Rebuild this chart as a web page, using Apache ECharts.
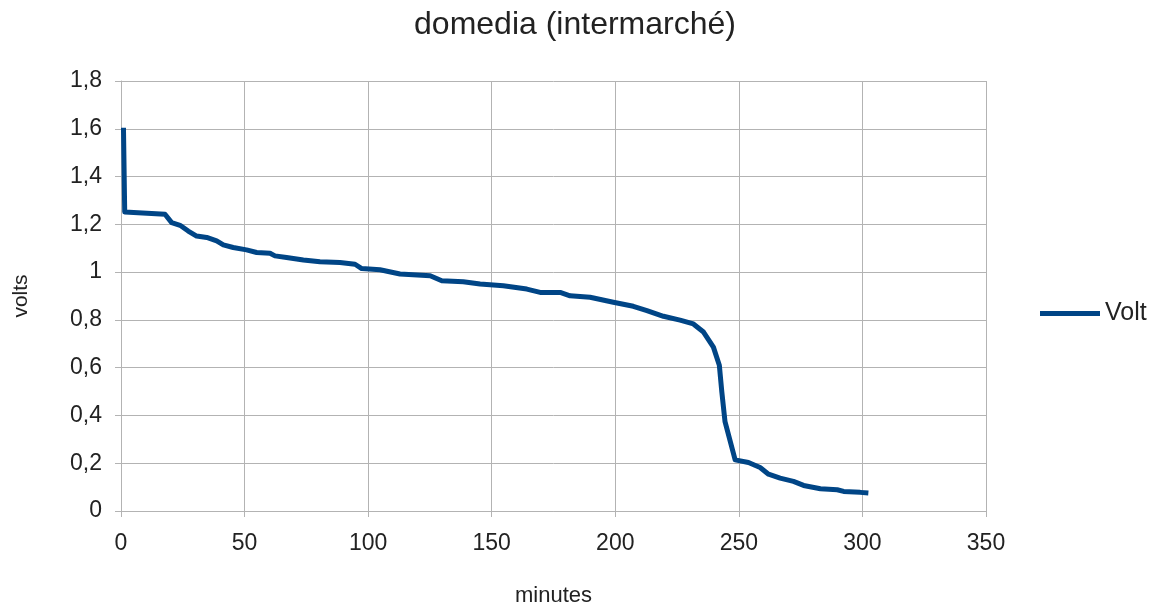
<!DOCTYPE html>
<html>
<head>
<meta charset="utf-8">
<script src="https://cdn.jsdelivr.net/npm/echarts@6/dist/echarts.min.js"></script>
<style>
html,body{margin:0;padding:0;background:#fff;}
#chart{width:1161px;height:612px;}
</style>
</head>
<body>
<div id="chart"></div>
<script>
// minutes / volts
var minutes = [1, 1.5, 17.8, 20.5, 23.9, 27.2, 30.6, 34.7, 38.7, 41.4, 45.4, 50.8, 54.9, 60.3, 62.3, 67, 73.8, 80.5, 88.6, 94.7, 97.4, 104.8, 112.9, 125.1, 129.8, 138.5, 145.3, 154.7, 164.2, 169.6, 177.7, 181.7, 189.8, 199.2, 207.3, 212.8, 219.5, 226.2, 231.6, 235.7, 239.7, 242.1, 243.1, 244.4, 248.5, 253.9, 258.6, 262, 266.7, 272.1, 276.2, 283, 289.8, 292.4, 299.1, 302.4];
var volts = [1.604, 1.252, 1.242, 1.207, 1.196, 1.172, 1.151, 1.145, 1.131, 1.114, 1.103, 1.093, 1.082, 1.079, 1.068, 1.061, 1.051, 1.043, 1.040, 1.033, 1.015, 1.010, 0.992, 0.985, 0.964, 0.960, 0.950, 0.943, 0.929, 0.915, 0.915, 0.901, 0.895, 0.874, 0.857, 0.839, 0.815, 0.799, 0.783, 0.749, 0.686, 0.610, 0.499, 0.374, 0.214, 0.203, 0.182, 0.154, 0.1375, 0.124, 0.107, 0.093, 0.089, 0.082, 0.078, 0.075];
var seriesName = 'Volt';

var pts = [];
for (var i = 0; i < minutes.length; i++) {
	pts.push([minutes[i], volts[i]]);
}

var chart = echarts.init(document.getElementById('chart'));
var gridColor = '#b3b3b3';
var txtColor = '#222';
var fontFam = '"Liberation Sans", Arial, sans-serif';

chart.setOption({
	animation: false,
	title: {
		text: 'domedia (intermarché)',
		left: 570,
		textAlign: 'center',
		top: 4,
		textStyle: {fontFamily: fontFam, fontSize: 32, fontWeight: 'normal', color: txtColor}
	},
	legend: {
		left: 1035,
		top: 296,
		icon: 'rect',
		itemWidth: 60,
		itemHeight: 5,
		itemGap: 6,
		textStyle: {fontFamily: fontFam, fontSize: 25, color: txtColor},
		data: [seriesName]
	},
	grid: {left: 121, right: 175, top: 81, bottom: 99},
	xAxis: {
		type: 'value',
		min: 0, max: 350, interval: 50,
		name: 'minutes',
		nameLocation: 'middle',
		nameGap: 74,
		nameTextStyle: {fontFamily: fontFam, fontSize: 22, color: txtColor},
		axisLine: {lineStyle: {color: gridColor}},
		axisTick: {show: true, length: 6, lineStyle: {color: gridColor}},
		axisLabel: {fontFamily: fontFam, fontSize: 23, color: txtColor, margin: 21},
		splitLine: {show: true, lineStyle: {color: gridColor, width: 1}}
	},
	yAxis: {
		type: 'value',
		min: 0, max: 1.8, interval: 0.2,
		name: 'volts',
		nameLocation: 'middle',
		nameGap: 89,
		nameTextStyle: {fontFamily: fontFam, fontSize: 21, color: txtColor},
		axisLine: {show: true, lineStyle: {color: gridColor}},
		axisTick: {show: true, length: 6, lineStyle: {color: gridColor}},
		axisLabel: {
			fontFamily: fontFam, fontSize: 23, color: txtColor, margin: 19,
			formatter: function (v) { return String(Math.round(v * 10) / 10).replace('.', ','); }
		},
		splitLine: {show: true, lineStyle: {color: gridColor, width: 1}}
	},
	series: [{
		name: seriesName,
		type: 'line',
		data: pts,
		symbol: 'none',
		smooth: false,
		itemStyle: {color: '#004586'},
		lineStyle: {color: '#004586', width: 5, join: 'round'}
	}]
});
</script>
</body>
</html>
